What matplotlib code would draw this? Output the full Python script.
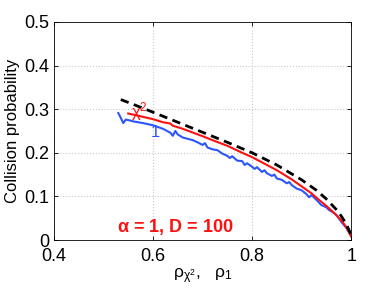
import numpy as np
import matplotlib.pyplot as plt

plt.rcParams['font.family'] = ['Liberation Sans', 'DejaVu Sans']
plt.rcParams['mathtext.default'] = 'regular'

# dashed theoretical curve
rho_dash = [0.535, 0.56, 0.6, 0.65, 0.7, 0.75, 0.8, 0.85, 0.9, 0.93, 0.95, 0.97, 0.98, 0.99, 1.0]
p_dash = [0.322, 0.311, 0.293, 0.270, 0.247, 0.224, 0.200, 0.172, 0.138, 0.114, 0.094, 0.070, 0.055, 0.037, 0.012]

# chi^2 curve (red)
rho_chi = [0.55, 0.57, 0.6, 0.62, 0.635, 0.64, 0.66, 0.7, 0.72, 0.75, 0.78, 0.8, 0.83, 0.85, 0.88,
           0.9, 0.92, 0.93, 0.95, 0.96, 0.97, 0.98, 0.99, 1.0]
p_chi = [0.290, 0.285, 0.277, 0.270, 0.267, 0.262, 0.255, 0.238, 0.229, 0.216, 0.200, 0.190, 0.172,
         0.160, 0.139, 0.123, 0.107, 0.097, 0.078, 0.068, 0.057, 0.045, 0.030, 0.008]

# rho_1 curve (blue)
rho_one = [0.53, 0.535, 0.54, 0.545, 0.55, 0.56, 0.58, 0.6, 0.62, 0.635, 0.64, 0.645, 0.65, 0.66,
           0.68, 0.69, 0.7, 0.705, 0.71, 0.72, 0.73, 0.74, 0.75, 0.755, 0.76, 0.77, 0.78, 0.785,
           0.79, 0.80, 0.805, 0.81, 0.82, 0.825, 0.83, 0.84, 0.845, 0.85, 0.86, 0.87, 0.875, 0.88,
           0.89, 0.90, 0.91, 0.915, 0.92, 0.93, 0.94, 0.95, 0.955, 0.96, 0.97, 0.98, 0.99, 1.0]
p_one = [0.291, 0.280, 0.268, 0.276, 0.275, 0.272, 0.268, 0.263, 0.255, 0.246, 0.239, 0.250, 0.242,
         0.235, 0.229, 0.224, 0.218, 0.222, 0.212, 0.208, 0.206, 0.198, 0.193, 0.188, 0.192, 0.182,
         0.181, 0.172, 0.176, 0.168, 0.163, 0.167, 0.156, 0.160, 0.153, 0.147, 0.150, 0.141, 0.138,
         0.130, 0.133, 0.126, 0.118, 0.114, 0.105, 0.098, 0.103, 0.092, 0.080, 0.075, 0.069, 0.066,
         0.058, 0.042, 0.028, 0.010]

fig = plt.figure(figsize=(3.88, 2.92), dpi=100)
ax = fig.add_axes([0.139, 0.178, 0.766, 0.747])

ax.plot(rho_one, p_one, color='#2b55ff', lw=1.5)
ax.plot(rho_chi, p_chi, color='#ff1010', lw=1.5)
ax.plot(rho_dash, p_dash, 'k--', lw=2, dashes=(3, 2))

ax.text(0.556, 0.281, r'$\chi^2$', color='#ff1010', fontsize=12)
ax.text(0.596, 0.236, '1', color='#2b55ff', fontsize=12)
ax.text(0.528, 0.03, r'$\alpha$ = 1, D = 100', color='#ff1010', fontsize=13,
        fontweight='bold', va='center')

ax.set_xlim(0.4, 1.0)
ax.set_ylim(0, 0.5)
ax.set_xticks([0.4, 0.6, 0.8, 1.0])
ax.set_xticklabels(['0.4', '0.6', '0.8', '1'])
ax.set_yticks(np.arange(0, 0.51, 0.1))
ax.set_yticklabels(['0', '0.1', '0.2', '0.3', '0.4', '0.5'])
ax.tick_params(direction='in', top=True, right=True, labelsize=13, length=3, width=0.6)
ax.tick_params(axis='x', pad=6)
ax.grid(True, linestyle=':', color='#c8c8c8', lw=0.8)
for s in ax.spines.values():
    s.set_linewidth(0.6)
ax.set_xlabel(r'$\rho_{\chi^2},\ \ \rho_1$', fontsize=12.5, labelpad=1)
ax.set_ylabel('Collision probability', fontsize=12, labelpad=3)

fig.savefig('out.png', dpi=100)
